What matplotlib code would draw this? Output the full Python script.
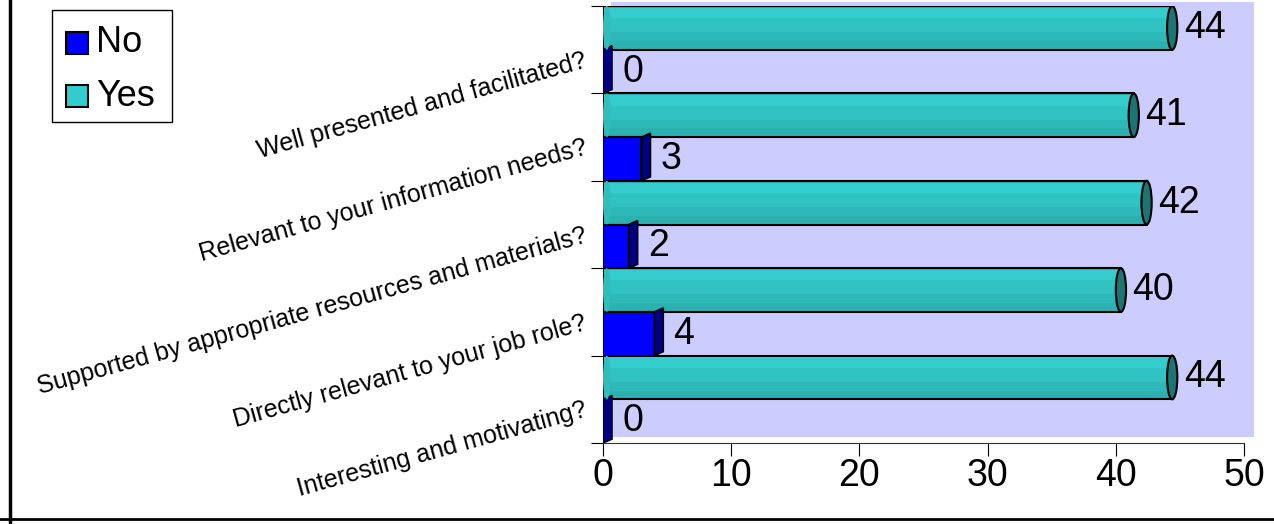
import matplotlib.pyplot as plt
from matplotlib.patches import Rectangle, Ellipse, Polygon
from matplotlib.lines import Line2D

plt.rcParams['font.family'] = ['Liberation Sans', 'DejaVu Sans']

# data, listed top to bottom as shown
questions = ['Well presented and facilitated?',
             'Relevant to your information needs?',
             'Supported by appropriate resources and materials?',
             'Directly relevant to your job role?',
             'Interesting and motivating?']
yes_counts = [44, 41, 42, 40, 44]
no_counts = [0, 3, 2, 4, 0]

fig = plt.figure(figsize=(12.74, 5.24), dpi=100)
ax = fig.add_axes([603/1274, 81/524, 641/1274, 437/524])

# back wall of the 3D plot area
wall = Rectangle((8/641, 6/437), 643/641, 435/437, transform=ax.transAxes,
                 facecolor='#CCCCFF', edgecolor='none', zorder=0, clip_on=False)
ax.add_patch(wall)
ax.set_facecolor('none')

h = 0.5
for i, (q, y_v, n_v) in enumerate(zip(questions, yes_counts, no_counts)):
    # Yes cylinder (upper half of band)
    top = i - 0.5
    ax.add_patch(Rectangle((0, top), y_v + 0.4, h, facecolor='#2DB0B0',
                           edgecolor='black', lw=1.5, zorder=3))
    ax.add_patch(Rectangle((0.1, top + 0.02), y_v + 0.2, 0.12, facecolor='#34CCCC',
                           edgecolor='none', zorder=4))
    ax.add_patch(Rectangle((0.1, top + 0.14), y_v + 0.2, 0.16, facecolor='#31C2C2',
                           edgecolor='none', zorder=4))
    ax.add_patch(Rectangle((0.1, top + 0.30), y_v + 0.2, 0.1, facecolor='#2FB8B8',
                           edgecolor='none', zorder=4))
    # rounded near end and darker far end of the cylinder
    ax.add_patch(Ellipse((0.3, top + h / 2), 0.6, h, facecolor='#30BDBD',
                         edgecolor='none', zorder=4))
    ax.add_patch(Ellipse((y_v + 0.4, top + h / 2), 0.8, h, facecolor='#1E7373',
                         edgecolor='black', lw=1.5, zorder=5))
    ax.text(y_v + 1.3, top + h / 2, str(y_v), fontsize=27, va='center', ha='left', zorder=6)

    # No box (lower half of band)
    nt = i
    ax.add_patch(Rectangle((0, nt), n_v, h, facecolor='#0000FF',
                           edgecolor='black', lw=1.5, zorder=3))
    d = 0.7
    side = Polygon([(n_v, nt), (n_v + d, nt - 0.045), (n_v + d, nt + h - 0.045), (n_v, nt + h)],
                   closed=True, facecolor='#000080', edgecolor='black', lw=1.2, zorder=3)
    ax.add_patch(side)
    ax.text(n_v + 1.5, nt + h / 2, str(n_v), fontsize=27, va='center', ha='left', zorder=6)

    # rotated category label
    ax.text(-1.3, i + 0.12, q, fontsize=18, rotation=15.5, rotation_mode='anchor',
            ha='right', va='center')

ax.set_xlim(0, 50)
ax.set_ylim(4.5, -0.5)
ax.set_xticks([0, 10, 20, 30, 40, 50])
ax.set_yticks([-0.5, 0.5, 1.5, 2.5, 3.5, 4.5])
ax.set_yticklabels([])
ax.tick_params(axis='x', labelsize=27, length=9, direction='out', pad=2)
ax.tick_params(axis='y', length=9, direction='out')
for s in ['top', 'right']:
    ax.spines[s].set_visible(False)
ax.spines['left'].set_color('#333333')
ax.spines['bottom'].set_color('#333333')

# legend
lx, ly, lw, lh = 52/1274, 1 - 122/524, 120/1274, 112/524
fig.add_artist(Rectangle((lx, ly), lw, lh, transform=fig.transFigure,
                         facecolor='white', edgecolor='black', lw=1))
labels = ['No', 'Yes']
colors = ['#0000FF', '#33CCCC']
for k, (lab, c) in enumerate(zip(labels, colors)):
    cy = 1 - (43 + k * 53) / 524
    fig.add_artist(Rectangle((66/1274, cy - 11/524), 22/1274, 22/524, transform=fig.transFigure,
                             facecolor=c, edgecolor='black', lw=1.5))
    fig.text(96/1274, cy, lab, fontsize=26, va='center', ha='left')

# chart frame edges visible in the picture
fig.add_artist(Line2D([10/1274, 10/1274], [0, 1], color='black', lw=2.5))
fig.add_artist(Line2D([0, 1], [5/524, 5/524], color='black', lw=2))

fig.savefig('out.png', dpi=100)
